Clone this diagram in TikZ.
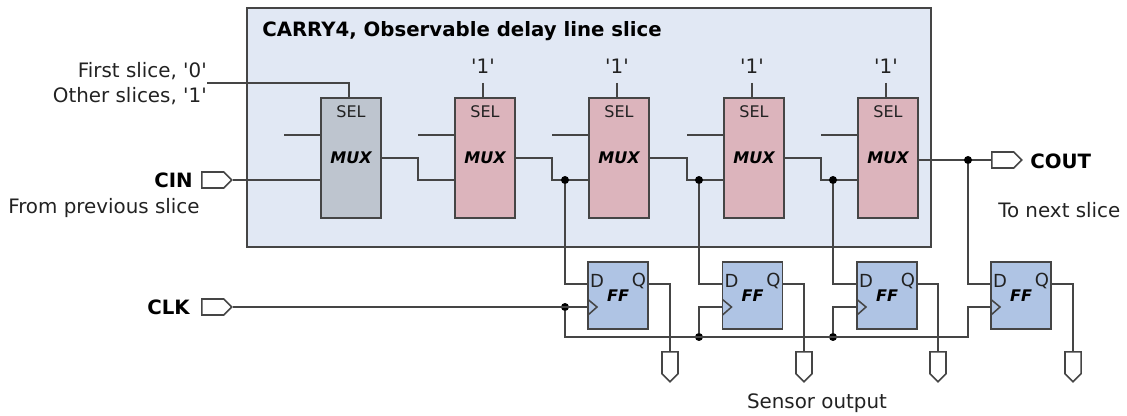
\documentclass[tikz,border=0pt]{standalone}
\usepackage{fontspec}
\setmainfont{DejaVu Sans}[Ligatures=TeXOff]
\usetikzlibrary{shapes.symbols}
\definecolor{ln}{HTML}{454545}
\definecolor{txt}{HTML}{222222}
\definecolor{slicefill}{HTML}{E1E8F4}
\definecolor{muxgray}{HTML}{BEC5CF}
\definecolor{muxred}{HTML}{DCB4BC}
\definecolor{ffblue}{HTML}{AFC4E4}
\tikzset{
  x=0.75pt,y=-0.75pt,
  wire/.style={draw=ln,line width=1.15pt},
  muxbox/.style={draw=ln,line width=1.25pt,minimum width=45pt,minimum height=90pt,inner sep=0pt,font=\fontsize{12}{14}\selectfont\bfseries\itshape},
  ffbox/.style={draw=ln,line width=1.25pt,fill=ffblue,minimum width=45pt,minimum height=50pt,inner sep=0pt,font=\fontsize{12}{14}\selectfont\bfseries\itshape},
  lbl/.style={inner sep=0pt,text=txt,font=\fontsize{14.9}{17}\selectfont},
  blbl/.style={inner sep=0pt,text=black,font=\fontsize{14.8}{17}\selectfont\bfseries},
  pin/.style={inner sep=0pt,text=txt,font=\fontsize{12}{14}\selectfont},
  dqpin/.style={inner sep=0pt,text=txt,font=\fontsize{13.5}{15}\selectfont},
  port/.style={shape=signal,signal to=east,signal pointer angle=90,draw=ln,fill=white,line width=1.15pt,minimum width=22.5pt,minimum height=12pt,inner sep=0pt,anchor=west},
  outport/.style={shape=signal,signal to=south,signal pointer angle=90,draw=ln,fill=white,line width=1.15pt,minimum width=12pt,minimum height=16.5pt,inner sep=0pt,anchor=north},
  junct/.style={circle,fill=black,inner sep=0pt,minimum size=6pt},
}
\begin{document}
\begin{tikzpicture}
\useasboundingbox (0,0) rectangle (1127,416);
\node[draw=ln,line width=1.25pt,fill=slicefill,minimum width=513pt,minimum height=179pt,inner sep=0pt] (slice) at (589,127.5) {};
\node[blbl,anchor=west] (title) at (262,31) {CARRY4, Observable delay line slice};

% MUX boxes
\node[muxbox,fill=muxgray] (m1) at (351,158) {MUX};
\node[muxbox,fill=muxred] (m2) at (485,158) {MUX};
\node[muxbox,fill=muxred] (m3) at (619,158) {MUX};
\node[muxbox,fill=muxred] (m4) at (754,158) {MUX};
\node[muxbox,fill=muxred] (m5) at (888,158) {MUX};
\foreach \n/\x in {s1/351,s2/485,s3/619,s4/754,s5/888}
  \node[pin] (\n) at (\x,112) {SEL};

% FF boxes
\node[ffbox] (f1) at (618,295.5) {FF};
\node[ffbox] (f2) at (752.5,295.5) {FF};
\node[ffbox] (f3) at (887,295.5) {FF};
\node[ffbox] (f4) at (1021,295.5) {FF};
\foreach \n/\x in {1/618,2/752.5,3/887,4/1021}{
  \node[dqpin] (d\n) at (\x-21,281) {D};
  \node[dqpin] (q\n) at (\x+21,281) {Q};
  \coordinate (fd\n) at (\x-30,284);
  \coordinate (fc\n) at (\x-30,307);
  \coordinate (fq\n) at (\x+30,284);
  \coordinate (ft\n) at (\x-21,307);
  \coordinate (fa\n) at (\x-30,299.5);
  \coordinate (fb\n) at (\x-30,315);
  \draw[wire] (fa\n) -- (ft\n) -- (fb\n);
}

% Constants
\foreach \n/\x in {c2/483,c3/617,c4/752,c5/886}{
  \node[lbl] (\n) at (\x,66) {'1'};
  \coordinate (\n t) at (\x,83);
  \coordinate (\n b) at (\x,98);
  \draw[wire] (\n t) -- (\n b);
}
\node[lbl,anchor=east] (first) at (207,71) {First slice, '0'};
\node[lbl,anchor=east] (other) at (207,96) {Other slices, '1'};
\coordinate (selstart) at (207,83);
\coordinate (selb) at (349,98);
\draw[wire] (selstart) -| (selb);

% stubs on upper MUX input
\foreach \i/\x in {1/321,2/455,3/589,4/724,5/858}{
  \coordinate (st\i a) at (\x-37,135);
  \coordinate (st\i b) at (\x,135);
  \draw[wire] (st\i a) -- (st\i b);
}

% Ports
\node[port] (cin) at (201,180) {};
\node[blbl,anchor=east] (cinl) at (193,180) {CIN};
\node[lbl,anchor=west] (prev) at (8,208) {From previous slice};
\coordinate (m1in) at (321,180);
\draw[wire] (cin.east) -- (m1in);

\node[port] (clk) at (201,307) {};
\node[blbl,anchor=east] (clkl) at (190,307) {CLK};
\node[port] (cout) at (991,160) {};
\node[blbl,anchor=west] (coutl) at (1030,161) {COUT};
\node[lbl,anchor=west] (next) at (998,210) {To next slice};
\node[lbl] (sensor) at (817,403) {Sensor output};

% MUX chain
\coordinate (m1o) at (381,158);
\coordinate (k2) at (418,158);
\coordinate (i2) at (455,180);
\draw[wire] (m1o) -- (k2) |- (i2);
\coordinate (m2o) at (515,158);
\coordinate (k3) at (552,158);
\coordinate (i3) at (589,180);
\draw[wire] (m2o) -- (k3) |- (i3);
\coordinate (m3o) at (649,158);
\coordinate (k4) at (687,158);
\coordinate (i4) at (724,180);
\draw[wire] (m3o) -- (k4) |- (i4);
\coordinate (m4o) at (784,158);
\coordinate (k5) at (821,158);
\coordinate (i5) at (858,180);
\draw[wire] (m4o) -- (k5) |- (i5);
\coordinate (m5o) at (918,160);
\draw[wire] (m5o) -- (cout.west);

% Junctions and D wires
\node[junct] (j1) at (565,180) {};
\node[junct] (j2) at (699,180) {};
\node[junct] (j3) at (833,180) {};
\node[junct] (j4) at (968,160) {};
\draw[wire] (j1) |- (fd1);
\draw[wire] (j2) |- (fd2);
\draw[wire] (j3) |- (fd3);
\draw[wire] (j4) |- (fd4);

% Clock
\node[junct] (jc) at (565,307) {};
\node[junct] (jb2) at (699,337) {};
\node[junct] (jb3) at (833,337) {};
\draw[wire] (clk.east) -- (fc1);
\coordinate (bs) at (565,337);
\coordinate (be) at (968,337);
\draw[wire] (jc) -- (bs) -- (be) |- (fc4);
\draw[wire] (jb2) |- (fc2);
\draw[wire] (jb3) |- (fc3);

% Outputs
\node[outport] (o1) at (670,351) {};
\node[outport] (o2) at (804,351) {};
\node[outport] (o3) at (938,351) {};
\node[outport] (o4) at (1073,351) {};
\foreach \i in {1,2,3,4}
  \draw[wire] (fq\i) -| (o\i.north);
\end{tikzpicture}
\end{document}
